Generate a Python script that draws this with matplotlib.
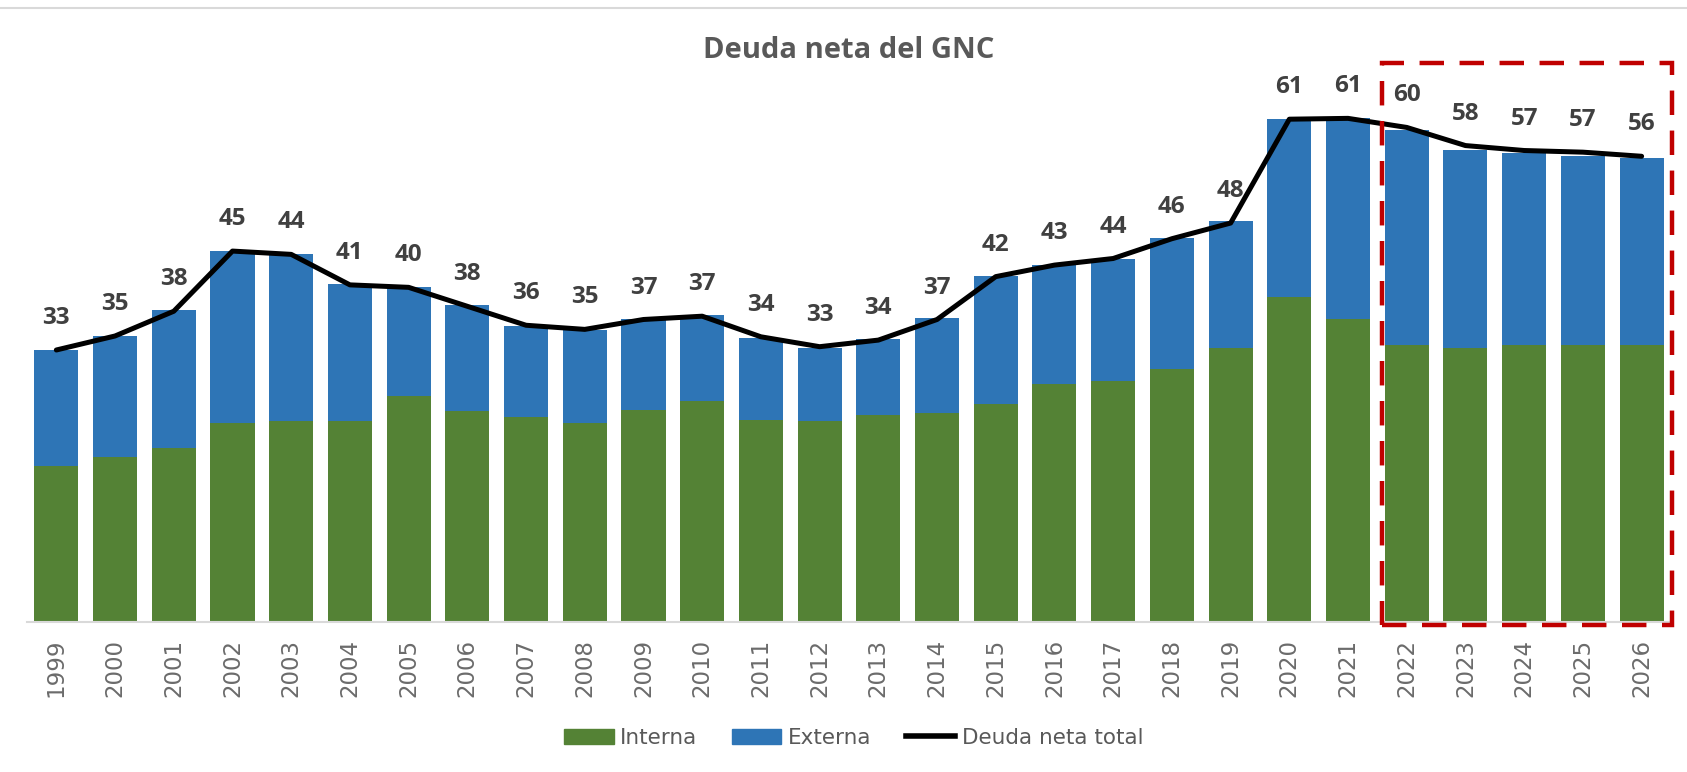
import numpy as np
import matplotlib.pyplot as plt
from matplotlib.patches import Rectangle
from matplotlib.lines import Line2D

# datos (% del PIB)
years = [str(y) for y in range(1999, 2027)]
interna = [18.9, 20.0, 21.1, 24.2, 24.4, 24.4, 27.4, 25.6, 24.9, 24.2,
           25.7, 26.8, 24.5, 24.4, 25.1, 25.3, 26.5, 28.9, 29.2, 30.7,
           33.2, 39.4, 36.8, 33.6, 33.2, 33.6, 33.6, 33.6]
externa = [14.1, 14.7, 16.8, 20.8, 20.2, 16.6, 13.2, 12.8, 11.0, 11.2,
           11.0, 10.4, 10.0, 8.9, 9.2, 11.6, 15.5, 14.4, 14.8, 15.9,
           15.5, 21.6, 24.3, 26.1, 24.1, 23.3, 22.9, 22.7]
total = [33.0, 34.7, 37.7, 45.0, 44.6, 40.9, 40.6, 38.3, 36.0, 35.5,
         36.7, 37.1, 34.6, 33.4, 34.2, 36.7, 41.9, 43.3, 44.1, 46.5,
         48.4, 61.0, 61.1, 60.0, 57.8, 57.2, 57.0, 56.5]
etiquetas = [33, 35, 38, 45, 44, 41, 40, 38, 36, 35, 37, 37, 34, 33, 34, 37,
             42, 43, 44, 46, 48, 61, 61, 60, 58, 57, 57, 56]

verde = '#548235'
azul = '#2E75B6'
gris_txt = '#404040'

fig = plt.figure(figsize=(16.87, 7.72), dpi=100)
ax = fig.add_axes([0.016, 0.1943, 0.9745, 0.7474])

x = np.arange(len(years))
ax.bar(x, interna, width=0.75, color=verde, label='Interna', zorder=2)
ax.bar(x, externa, width=0.75, bottom=interna, color=azul, label='Externa', zorder=2)
ax.plot(x, total, color='black', lw=3.6, solid_capstyle='round', zorder=3)

for i, v in enumerate(etiquetas):
    ax.annotate(str(v), (x[i], total[i]), xytext=(0, 23), textcoords='offset points',
                ha='center', va='center', fontsize=17.5, fontweight='bold',
                color=gris_txt, family='Open Sans')

# recuadro de proyecciones
rect = Rectangle((22.57, -0.35), 4.95, 68.2, fill=False, edgecolor='#C00000',
                 lw=3.2, linestyle=(0, (5.5, 3.5)), clip_on=False, zorder=4)
ax.add_patch(rect)

ax.set_xlim(-0.5, 27.5)
ax.set_ylim(0, 70)
ax.set_xticks(x)
ax.set_xticklabels(years, rotation=90, fontsize=16.5, color='#6b6b6b')
ax.tick_params(axis='x', length=0, pad=12)
ax.set_yticks([])
for s in ['top', 'right', 'left']:
    ax.spines[s].set_visible(False)
ax.spines['bottom'].set_color('#D9D9D9')
ax.spines['bottom'].set_linewidth(1.5)

fig.text(0.503, 0.934, 'Deuda neta del GNC', ha='center', va='center',
         fontsize=21, fontweight='bold', color='#595959', family='Open Sans')

# linea gris superior del marco
fig.add_artist(Line2D([0, 1], [0.989, 0.989], color='#D9D9D9', lw=1.5))

handles = [plt.Rectangle((0, 0), 1, 1, color=verde),
           plt.Rectangle((0, 0), 1, 1, color=azul),
           Line2D([0], [0], color='black', lw=4)]
leg = fig.legend(handles, ['Interna', 'Externa', 'Deuda neta total'],
                 loc='center', bbox_to_anchor=(0.506, 0.044), ncol=3, frameon=False,
                 fontsize=15.5, handlelength=2.3, handletextpad=0.3, columnspacing=1.6)
for t in leg.get_texts():
    t.set_color('#595959')

fig.savefig('out.png', dpi=100)
